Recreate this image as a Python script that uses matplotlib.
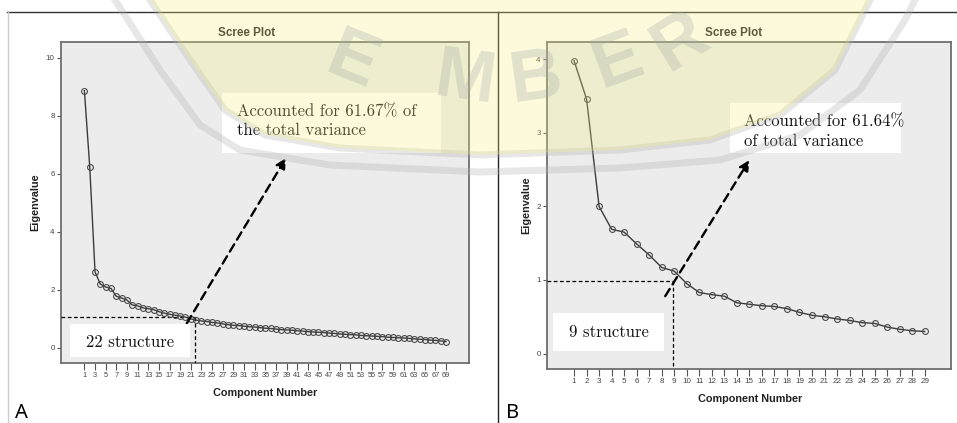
import matplotlib
matplotlib.use("Agg")
import matplotlib.pyplot as plt
from matplotlib.patches import Rectangle, Polygon
from matplotlib.lines import Line2D
from matplotlib.transforms import Affine2D

plt.rcParams['font.family'] = ['Liberation Sans', 'DejaVu Sans']

# ---- data ----
comp_a = list(range(1, 70))
eig_a = [8.87, 6.25, 2.62, 2.20, 2.10, 2.05, 1.78, 1.72, 1.65, 1.48,
         1.45, 1.38, 1.35, 1.32, 1.25, 1.20, 1.16, 1.13, 1.10, 1.06,
         1.00, 0.96, 0.93, 0.91, 0.88, 0.86, 0.83, 0.80, 0.78, 0.77,
         0.75, 0.73, 0.72, 0.70, 0.68, 0.67, 0.65, 0.63, 0.62, 0.61,
         0.59, 0.58, 0.56, 0.55, 0.54, 0.53, 0.51, 0.50, 0.48, 0.47,
         0.46, 0.45, 0.43, 0.42, 0.41, 0.40, 0.39, 0.37, 0.36, 0.35,
         0.34, 0.33, 0.31, 0.30, 0.29, 0.27, 0.26, 0.24, 0.22]
xticks_a = list(range(1, 70, 2))
yticks_a = [0, 2, 4, 6, 8, 10]
cut_a = (21.7, 1.08)                    # dashed guide lines
arrow_a = ((20.25, 0.85), (38.9, 6.55))  # start, tip
note_a = ["Accounted for 61.67% of", "the total variance"]
label_a = "22 structure"

comp_b = list(range(1, 30))
eig_b = [3.98, 3.46, 2.00, 1.69, 1.65, 1.49, 1.34, 1.17, 1.12, 0.95,
         0.83, 0.80, 0.78, 0.69, 0.67, 0.65, 0.64, 0.61, 0.56, 0.52,
         0.50, 0.47, 0.45, 0.42, 0.41, 0.36, 0.33, 0.31, 0.30]
xticks_b = list(range(1, 30))
yticks_b = [0, 1, 2, 3, 4]
cut_b = (8.92, 0.98)
arrow_b = ((8.28, 0.78), (15.0, 2.63))
note_b = ["Accounted for 61.64%", "of total variance"]
label_b = "9 structure"

W, H = 957, 423
fig = plt.figure(figsize=(W / 100, H / 100), dpi=100)
# pixel coordinates measured from the top-left corner
pix = Affine2D().scale(1 / W, -1 / H).translate(0, 1) + fig.transFigure


def box(x0, y0, x1, y1):
    return [x0 / W, 1 - y1 / H, (x1 - x0) / W, (y1 - y0) / H]


def scree(ax, comp, eig, xticks, yticks, xlim, ylim, xtick_fs, xtick_len):
    ax.set_facecolor('#ececec')
    ax.plot(comp, eig, color='#3c3c3c', lw=1.0, marker='o', ms=4.2,
            mfc='none', mec='#4a4a4a', mew=0.8, zorder=4)
    ax.set_xlim(*xlim)
    ax.set_ylim(*ylim)
    ax.set_xticks(xticks)
    ax.set_yticks(yticks)
    for s in ax.spines.values():
        s.set_color('#6e6e6e')
        s.set_linewidth(1.3)
    ax.tick_params(axis='x', direction='out', length=xtick_len, width=0.8,
                   color='#555555', labelsize=xtick_fs, labelcolor='#444444', pad=1.5)
    ax.tick_params(axis='y', direction='out', length=3, width=0.8,
                   color='#555555', labelsize=5.8, labelcolor='#444444', pad=1.5)


def guides(ax, cut, arrow, ylim, xlim):
    x, y = cut
    ax.plot([xlim[0], x], [y, y], color='black', lw=0.9, ls=(0, (3, 2)), zorder=3)
    ax.plot([x, x], [y, ylim[0]], color='black', lw=0.9, ls=(0, (3, 2)), zorder=3)
    ax.annotate('', xy=arrow[1], xytext=arrow[0],
                arrowprops=dict(arrowstyle='-|>', lw=1.7, ls=(0, (3.6, 2.3)),
                                color='black', mutation_scale=15,
                                shrinkA=0, shrinkB=0), zorder=6)


# ---- panel A ----
xlim_a = (-3.4, 73.3)
ylim_a = (-0.52, 10.55)
axA = fig.add_axes(box(61, 42, 469, 363))
scree(axA, comp_a, eig_a, xticks_a, yticks_a, xlim_a, ylim_a, 5.3, 5)
guides(axA, cut_a, arrow_a, ylim_a, xlim_a)

# ---- panel B ----
xlim_b = (-1.16, 31.1)
ylim_b = (-0.21, 4.235)
axB = fig.add_axes(box(547, 42, 951, 369))
scree(axB, comp_b, eig_b, xticks_b, yticks_b, xlim_b, ylim_b, 5.8, 5)
guides(axB, cut_b, arrow_b, ylim_b, xlim_b)

# white note boxes and serif notes
for (x0, y0, x1, y1) in [(222, 93, 441, 153), (70, 324, 190, 357),
                         (730, 103, 901, 153), (553, 313, 664, 351)]:
    fig.patches.append(Rectangle((x0, y1), x1 - x0, y0 - y1, transform=pix,
                                 fc='white', ec='none', zorder=2))
serif = dict(family=['cmr10', 'DejaVu Serif'], fontsize=12, color='#111111',
             transform=pix, zorder=3)
fig.text(237, 116.5, note_a[0], va='baseline', **serif)
fig.text(237, 135, note_a[1], va='baseline', **serif)
fig.text(130, 347.3, label_a, ha='center', va='baseline', **serif)
fig.text(744, 126.7, note_b[0], va='baseline', **serif)
fig.text(744, 145.7, note_b[1], va='baseline', **serif)
fig.text(608.7, 337.3, label_b, ha='center', va='baseline', **serif)

# titles and axis labels (SPSS style)
bold = dict(fontweight='bold', color='#222222', transform=pix)
fig.text(246.7, 32.5, "Scree Plot", ha='center', va='center', fontsize=8.4, **bold)
fig.text(733.3, 32.5, "Scree Plot", ha='center', va='center', fontsize=8.4, **bold)
fig.text(265, 393.3, "Component Number", ha='center', va='center', fontsize=7.8, **bold)
fig.text(749.7, 399.3, "Component Number", ha='center', va='center', fontsize=7.8, **bold)
fig.text(35, 202, "Eigenvalue", rotation=90, ha='center', va='center', fontsize=7.8, **bold)
fig.text(526, 205, "Eigenvalue", rotation=90, ha='center', va='center', fontsize=7.8, **bold)
fig.text(21.5, 412.5, "A", ha='center', va='center', fontsize=14.5,
         family=['Noto Sans', 'DejaVu Sans'], color='black', transform=pix)
fig.text(513, 412.5, "B", ha='center', va='center', fontsize=14.5,
         family=['Noto Sans', 'DejaVu Sans'], color='black', transform=pix)

# frame rules
fig.lines.append(Line2D([7, W], [12.5, 12.5], color='#333333', lw=1.0, transform=pix))
fig.lines.append(Line2D([7.5, 7.5], [12.5, H], color='#cccccc', lw=1.0, transform=pix))
fig.lines.append(Line2D([498, 498], [12.5, H], color='#222222', lw=1.0, transform=pix))

# faint watermark of the source document
outer = [(115, 0), (160, 70), (200, 125), (240, 150), (330, 165), (480, 172),
         (620, 168), (720, 160), (800, 135), (860, 90), (905, 20), (915, 0)]
inner = [(150, 0), (190, 60), (225, 110), (265, 135), (340, 148), (480, 155),
         (620, 150), (710, 140), (780, 115), (835, 70), (870, 0)]
fig.patches.append(Polygon(inner, closed=True, transform=pix, fc='#f5f080',
                           ec='none', alpha=0.28, zorder=8))
for pts in (outer, inner):
    xs, ys = zip(*pts)
    fig.lines.append(Line2D(xs, ys, color='#b0b0b0', lw=5, alpha=0.3,
                            solid_joinstyle='round', transform=pix, zorder=8))
for ch, x, y, rot in [("E", 352, 62, -22), ("M", 465, 80, -8), ("B", 535, 80, 8),
                      ("E", 617, 62, 20), ("R", 680, 42, 32)]:
    fig.text(x, y, ch, ha='center', va='center', rotation=rot, fontsize=52,
             fontweight='bold', color='#a8a8a8', alpha=0.3, transform=pix, zorder=8)

fig.savefig("out.png", dpi=100)
